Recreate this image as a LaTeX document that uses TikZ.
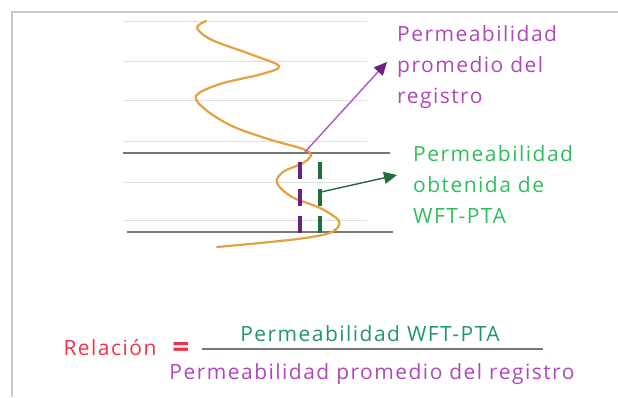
\documentclass[tikz,border=0pt]{standalone}
\usepackage{fontspec}
\setmainfont{Open Sans}[LetterSpace=7]
\usepackage{xcolor}
\usetikzlibrary{arrows.meta}

\definecolor{borde}{HTML}{C8C8C8}
\definecolor{guia}{HTML}{E0E0E0}
\definecolor{capa}{HTML}{777777}
\definecolor{registro}{HTML}{E3A13F}
\definecolor{morado}{HTML}{AE48B8}
\definecolor{moradoosc}{HTML}{6E1F80}
\definecolor{moradoflecha}{HTML}{A45CC4}
\definecolor{verde}{HTML}{2EBE5E}
\definecolor{verdeosc}{HTML}{1F6E3C}
\definecolor{verdenum}{HTML}{22966A}
\definecolor{rojo}{HTML}{F4304A}

\tikzset{
	etiqueta/.style={font=\fontsize{21}{31}\selectfont, align=left, inner sep=0pt, anchor=north west},
	formula/.style={font=\fontsize{21}{24}\selectfont, inner sep=0pt, anchor=base},
	guialinea/.style={guia, line width=1pt},
	capalinea/.style={capa, line width=2.8pt},
	pozo/.style={line width=4pt, dash pattern=on 17pt off 10pt},
	flecha/.style={line width=1.4pt, -{Triangle[length=13pt,width=12pt]}}
}

\begin{document}
\begin{tikzpicture}[x=1pt, y=-1pt]
	\useasboundingbox (0,0) rectangle (618,397);
	% marco
	\draw[borde, line width=2pt] (618,12) -- (12,12) -- (12,397);
	% lineas guia
	\foreach \yy in {21,61,100,141,182,220}
		\draw[guialinea] (123,\yy) -- (367,\yy);
	% limites de la capa
	\draw[capalinea] (123,153) -- (390,153);
	\draw[capalinea] (127,232) -- (393,232);
	% curva del registro
	\draw[registro, line width=2.2pt, line cap=round] plot[smooth, tension=0.55] coordinates {
		(206,21) (197,28) (212,40) (250,54) (279,66) (262,74) (220,84) (196,96)
		(206,110) (232,126) (268,139) (303,149) (311,155) (303,163) (283,172) (277,183)
		(292,197) (320,208) (339,221) (332,232) (305,238) (260,243) (217,247)};
	% puntos de la prueba
	\draw[moradoosc, pozo] (300,162) -- (300,233);
	\draw[verdeosc, pozo] (320,162) -- (320,233);
	% etiquetas
	\node[etiqueta, text=morado] (promedio) at (397,25) {Permeabilidad\\promedio del\\registro};
	\node[etiqueta, text=verde] (prueba) at (413,145) {Permeabilidad\\obtenida de\\WFT-PTA};
	\coordinate (tope) at (305,152);
	\coordinate (puntaA) at (387,62);
	\coordinate (medio) at (321,192);
	\coordinate (puntaB) at (397,175);
	\draw[flecha, moradoflecha, -{Triangle[length=13pt,width=12pt,color=moradoosc]}] (tope) -- (puntaA);
	\draw[flecha, verdeosc] (medio) -- (puntaB);
	% relacion
	\node[formula, text=rojo] (relacion) at (110,355) {Relación};
	\node[formula, text=rojo, font=\fontsize{30}{30}\selectfont\bfseries] (igual) at (181,357) {=};
	\coordinate (fracA) at (202,349);
	\coordinate (fracB) at (543,349);
	\draw[capa, line width=2.6pt] (fracA) -- (fracB);
	\node[formula, text=verdenum] (numerador) at (370,341) {Permeabilidad WFT-PTA};
	\node[formula, text=morado] (denominador) at (372,379) {Permeabilidad promedio del registro};
\end{tikzpicture}
\end{document}
